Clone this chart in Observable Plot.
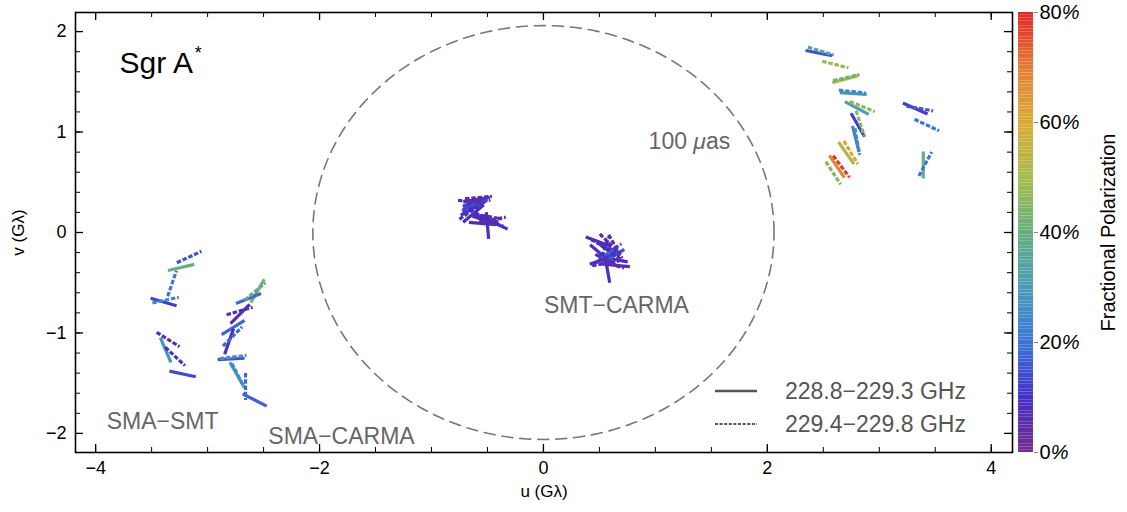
<!DOCTYPE html>
<html><head><meta charset="utf-8">
<script src="https://cdn.jsdelivr.net/npm/d3@7"></script>
<script src="https://cdn.jsdelivr.net/npm/@observablehq/plot@0.6"></script>
<style>
body{margin:0;background:#fff;font-family:"Liberation Sans",Arial,sans-serif;}
#wrap{position:relative;width:1127px;height:512px;overflow:hidden;}
#main{position:absolute;left:0;top:0;}
#cbar{position:absolute;left:1012px;top:0;}
#legend{position:absolute;left:712px;top:376px;}
</style></head><body>
<div id="wrap"><div id="main"></div><div id="cbar"></div>
<svg id="legend" width="290" height="62" font-family="Liberation Sans, Arial, sans-serif">
  <line x1="3" x2="45" y1="15" y2="15" stroke="#555" stroke-width="2.5"/>
  <line x1="3" x2="45" y1="48" y2="48" stroke="#555" stroke-width="2" stroke-dasharray="3,1.6"/>
  <text x="73" y="15" dominant-baseline="central" font-size="23" fill="#555">228.8−229.3 GHz</text>
  <text x="73" y="48" dominant-baseline="central" font-size="23" fill="#555">229.4−229.8 GHz</text>
</svg>
</div>
<script>
// ---- data: polarization ticks on the (u,v) plane ----
const uVals = [2.46,2.478,2.607,2.696,2.705,2.768,2.759,2.799,2.848,2.808,2.83,2.79,2.804,2.746,2.705,2.621,2.661,2.589,
  3.321,3.362,3.424,3.393,3.411,
  -3.165,-3.237,-3.317,-3.393,-3.375,-3.353,-3.375,-3.29,-3.223,
  -2.576,-2.554,-2.634,-2.714,-2.71,-2.772,-2.808,-2.777,-2.79,-2.772,-2.741,-2.728,-2.661,-2.58,
  -0.607,-0.616,-0.598,-0.634,-0.589,-0.652,-0.58,-0.625,-0.643,-0.518,-0.473,-0.545,-0.429,-0.491,-0.5,-0.455,-0.563,-0.61,-0.52,
  0.491,0.536,0.58,0.616,0.563,0.598,0.634,0.554,0.509,0.607,0.571,0.643,0.527,0.589,0.652,0.545,0.62,0.57];
const vVals = [1.786,1.806,1.672,1.527,1.542,1.383,1.403,1.239,1.254,1.07,1.085,0.93,0.905,0.796,0.791,0.657,0.657,0.592,
  1.234,1.234,1.07,0.672,0.682,
  -0.244,-0.348,-0.507,-0.692,-0.672,-1.065,-1.169,-1.234,-1.408,
  -0.587,-0.582,-0.657,-0.781,-0.811,-0.945,-1.085,-1.035,-1.259,-1.239,-1.408,-1.423,-1.532,-1.667,
  0.308,0.269,0.328,0.239,0.289,0.209,0.348,0.189,0.308,0.139,0.109,0.09,0.09,0.159,0.07,0.129,0.169,0.28,0.12,
  -0.09,-0.129,-0.169,-0.209,-0.239,-0.189,-0.269,-0.308,-0.209,-0.308,-0.368,-0.139,-0.269,-0.109,-0.328,-0.169,-0.24,-0.28];
const evpaDeg = [101,107,104,75,77,94,96,118,112,150,162,166,170,149,145,146,143,147,
  114,100,115,180,28,
  65,77,19,106,78,122,157,133,102,
  50,30,68,74,45,58,19,45,87,83,150,153,180,117,
  70,65,80,60,75,55,85,50,95,105,110,95,115,100,175,80,120,68,108,
  110,115,120,125,60,55,100,80,130,110,170,150,70,135,95,20,58,118];
const fracPol = [15,35,48,50,42,28,25,32,47,12,45,22,26,62,52,68,78,45,
  12,15,20,40,20,
  15,40,20,12,25,7,28,8,14,
  38,42,18,8,6,18,8,18,15,27,28,25,18,17,
  8,12,6,10,14,7,5,9,6,6,8,7,10,5,7,6,9,13,7,
  6,8,7,9,14,16,7,6,8,5,7,6,10,6,8,9,15,7];
const band = [0,1,1,0,1,0,1,0,1,0,1,0,1,1,0,0,1,1,
  0,1,1,0,1,
  1,0,1,0,1,1,0,1,0,
  1,0,0,1,0,0,0,1,0,1,0,1,1,0,
  0,1,0,0,1,1,1,0,1,0,1,0,0,1,0,1,1,0,0,
  0,1,0,1,0,1,0,1,0,1,0,1,0,1,0,1,0,0];

const xTicks = [-4,-2,0,2,4];
const xMinor = [-4,-3.5,-3,-2.5,-2,-1.5,-1,-0.5,0,0.5,1,1.5,2,2.5,3,3.5,4];
const yTicks = [-2,-1,0,1,2];
const yMinor = [-2,-1.8,-1.6,-1.4,-1.2,-1,-0.8,-0.6,-0.4,-0.2,0,0.2,0.4,0.6,0.8,1,1.2,1.4,1.6,1.8,2];
const cbTicks = [0,20,40,60,80];
const fracStops = [0,10,20,30,40,50,60,70,80];
const fracColors = ["#762a8c","#4430c6","#3a76d8","#4a9cb6","#68ae80","#a6bb4e","#d9ab36","#e57c36","#dc2926"];
const circleRadius = 2.06; // 100 µas scale circle
const annotations = [
  {u: 1.304, v: 0.905, text: "100 μas"},
  {u: 0.652, v: -0.726, text: "SMT−CARMA"},
  {u: -3.402, v: -1.881, text: "SMA−SMT"},
  {u: -1.804, v: -2.03, text: "SMA−CARMA"}
];
const title = [{u: -3.786, v: 1.68, text: "Sgr A"}];
const titleStar = [{u: -3.115, v: 1.68, text: "*"}];

const segs = uVals.map((u, i) => ({u, v: vVals[i], angle: evpaDeg[i], frac: fracPol[i], band: band[i]}));
const circle = d3.range(0, 361, 2).map(t => ({u: circleRadius * Math.cos(t * Math.PI / 180), v: circleRadius * Math.sin(t * Math.PI / 180)}));
const stick = {draw(ctx, l) { ctx.moveTo(0, 0); ctx.lineTo(0, -l); }};
const colorScale = {type: "linear", domain: fracStops, range: fracColors, interpolate: "rgb"};
const font = "Liberation Sans, Arial, sans-serif";
const innerH = 440, innerW = 937;
const fmt = d => d < 0 ? "−" + (-d) : String(d);

const main = Plot.plot({
  width: 1127, height: 512,
  marginLeft: 75, marginRight: 115, marginTop: 12, marginBottom: 60,
  x: {domain: [-4.18, 4.19]},
  y: {domain: [-2.19, 2.19]},
  color: colorScale,
  style: {fontFamily: font, fontSize: "18px", background: "transparent", color: "#000"},
  marks: [
    Plot.line(circle, {x: "u", y: "v", stroke: "#777", strokeWidth: 1.6, strokeDasharray: "11,7"}),
    Plot.vector(segs.filter(d => d.band === 0), {x: "u", y: "v", rotate: "angle", length: 27, anchor: "middle", shape: stick, stroke: "frac", strokeWidth: 3.2, strokeLinecap: "butt"}),
    Plot.vector(segs.filter(d => d.band === 1), {x: "u", y: "v", rotate: "angle", length: 27, anchor: "middle", shape: stick, stroke: "frac", strokeWidth: 3.2, strokeLinecap: "butt", strokeDasharray: "4.5,1.8"}),
    Plot.text(annotations, {x: "u", y: "v", text: "text", fill: "#666", fontSize: 23}),
    Plot.text(title, {x: "u", y: "v", text: "text", textAnchor: "start", fontSize: 30, fill: "#000"}),
    Plot.text(titleStar, {x: "u", y: "v", text: "text", textAnchor: "start", fontSize: 18, dy: -10, fill: "#000"}),
    Plot.frame({stroke: "#000", strokeWidth: 1.6}),
    Plot.tickX(xMinor, {x: d => d, insetTop: innerH - 5, stroke: "#000"}),
    Plot.tickX(xMinor, {x: d => d, insetBottom: innerH - 5, stroke: "#000"}),
    Plot.tickX(xTicks, {x: d => d, insetTop: innerH - 8, stroke: "#000", strokeWidth: 1.3}),
    Plot.tickX(xTicks, {x: d => d, insetBottom: innerH - 8, stroke: "#000", strokeWidth: 1.3}),
    Plot.tickY(yMinor, {y: d => d, insetRight: innerW - 5, stroke: "#000"}),
    Plot.tickY(yMinor, {y: d => d, insetLeft: innerW - 5, stroke: "#000"}),
    Plot.tickY(yTicks, {y: d => d, insetRight: innerW - 8, stroke: "#000", strokeWidth: 1.3}),
    Plot.tickY(yTicks, {y: d => d, insetLeft: innerW - 8, stroke: "#000", strokeWidth: 1.3}),
    Plot.axisX(xTicks, {tickSize: 0, tickPadding: 9, fontSize: 18, label: null, tickFormat: fmt}),
    Plot.axisY(yTicks, {tickSize: 0, tickPadding: 9, fontSize: 18, label: null, tickFormat: fmt}),
    Plot.text(["u (Gλ)"], {text: d => d, frameAnchor: "bottom", dy: 44, fontSize: 17, textAnchor: "middle"}),
    Plot.text(["v (Gλ)"], {text: d => d, frameAnchor: "left", dx: -57, rotate: -90, fontSize: 17, textAnchor: "middle"})
  ]
});
document.getElementById("main").appendChild(main);
// italic µ like the original typesetting
main.querySelectorAll("text").forEach(t => {
  if (t.textContent === "100 μas") t.innerHTML = '100 <tspan font-style="italic">μ</tspan>as';
});

const cb = Plot.plot({
  width: 115, height: 512,
  marginLeft: 6, marginRight: 94, marginTop: 12, marginBottom: 60,
  x: {domain: [0, 1], axis: null},
  y: {domain: [0, 80], axis: null},
  color: colorScale,
  style: {fontFamily: font, fontSize: "20px", background: "transparent", color: "#000"},
  marks: [
    Plot.rect(d3.range(0, 80, 0.5), {x1: 0, x2: 1, y1: d => d, y2: d => d + 0.5, fill: d => d + 0.25}),
    Plot.axisY(cbTicks, {anchor: "right", tickSize: 4, tickPadding: 2, tickFormat: d => d + "%", fontSize: 20, label: null, stroke: "#888"}),
    Plot.text(["Fractional Polarization"], {text: d => d, frameAnchor: "right", dx: 75, rotate: -90, fontSize: 20, textAnchor: "middle"})
  ]
});
document.getElementById("cbar").appendChild(cb);
cb.querySelectorAll("text").forEach(t => {
  const m = /^(\d+)%$/.exec(t.textContent);
  if (m) t.innerHTML = m[1] + '<tspan font-style="italic">%</tspan>';
});
</script>
</body></html>
